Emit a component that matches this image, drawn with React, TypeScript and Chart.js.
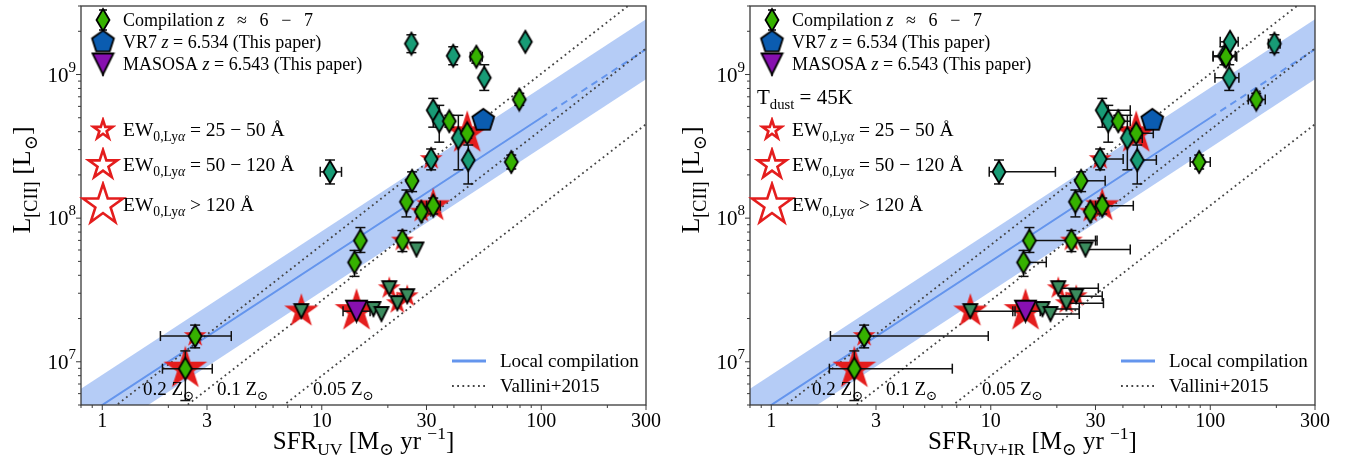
import React, { useEffect, useRef } from 'react';
import { Chart, registerables } from 'chart.js';

Chart.register(...registerables);

const FONT = '"Liberation Serif", "DejaVu Serif", serif';

// ---------------- data ----------------
// Compilation z ~ 6-7 (diamonds)
const compSfrUV = [25.6, 39.7, 50.6, 84.6, 55.0, 79.4, 73.0, 10.9, 32.2, 34.3, 38.1, 41.9, 46.0, 46.5, 31.5, 25.8, 24.3, 28.4, 32.2, 15.0, 23.3, 14.1, 2.65, 2.39];
const compSfrUVIR = [196, 116, 118, 123, 122, 162, 89.0, 10.9, 32.2, 34.3, 38.1, 41.9, 46.0, 46.5, 31.5, 25.8, 24.3, 28.4, 32.2, 15.0, 23.3, 14.1, 2.65, 2.39];
const compLcii = [1.64e9, 1.35e9, 1.33e9, 1.69e9, 9.5e8, 6.7e8, 2.46e8, 2.1e8, 5.64e8, 4.73e8, 4.73e8, 3.61e8, 3.9e8, 2.54e8, 2.58e8, 1.82e8, 1.3e8, 1.11e8, 1.22e8, 6.98e7, 6.98e7, 4.92e7, 1.51e7, 8.95e6];
const compLciiLo = [1.42e9, 1.17e9, 1.2e9, null, 7.75e8, 6.1e8, 2.2e8, 1.73e8, 4.3e8, 3.38e8, 4.3e8, 2.17e8, 3.6e8, 1.73e8, 2.17e8, 1.53e8, 1.02e8, 1.02e8, 1.07e8, 5.77e7, 5.85e7, 3.93e7, 1.25e7, 5.37e6];
const compLciiHi = [1.89e9, 1.56e9, 1.45e9, null, 1.17e9, 7.4e8, 2.75e8, 2.54e8, 6.82e8, 6.1e8, 5.2e8, 5.2e8, 4.2e8, 3.23e8, 3.03e8, 2.1e8, 1.57e8, 1.2e8, 1.38e8, 8.6e7, 8.2e7, 5.96e7, 1.8e7, 1.19e7];
const compUVLo = [null, null, 47.5, null, null, null, null, 9.84, null, null, null, null, null, null, null, null, null, null, 30.0, null, null, null, 1.84, 1.88];
const compUVHi = [null, null, 53.8, null, null, null, null, 12.3, null, null, null, null, null, null, null, null, null, null, 34.7, null, null, null, 3.87, 3.17];
const compUVIRLo = [184, 103, 103, 111, 105, 149, 81, 9.84, 32.2, 34.3, null, 41.9, 46.0, 46.5, 31.5, 25.8, null, null, 30.0, 15.0, 23.3, 14.1, 1.86, 1.84];
const compUVIRHi = [208, 130, 132, 134, 135, 178, 100, 19.7, 43.2, 43.2, null, 49.0, 55.0, 56.8, 40.1, 33.2, null, null, 44.6, 30.0, 30.5, 17.9, 9.74, 6.68];
const compKind = ['teal', 'teal', 'green', 'teal', 'teal', 'green', 'green', 'teal', 'teal', 'teal', 'green', 'teal', 'green', 'teal', 'teal', 'green', 'green', 'green', 'green', 'green', 'green', 'green', 'green', 'green'];
const compEW = [0, 0, 0, 0, 0, 0, 0, 0, 0, 0, 0, 0, 3, 0, 1, 0, 0, 1, 2, 0, 1, 0, 1, 3];

// LAEs of this survey (down triangles)
const laeSfrUV = [8.07, 17.2, 18.7, 20.3, 22.1, 24.5, 27.0];
const laeSfrUVIRHi = [12.9, 25.3, 25.3, 30.9, 32.6, 32.2, 43.2];
const laeLcii = [2.25e7, 2.33e7, 2.15e7, 3.25e7, 2.56e7, 2.86e7, 6.05e7];
const laeEW = [2, 0, 0, 1, 1, 1, 0];

// VR7 and MASOSA
const vr7Sfr = [54.4];
const vr7Lcii = [4.8e8];
const vr7EW = [1];
const masosaSfr = [14.4];
const masosaLcii = [2.25e7];
const masosaUVLo = [12.5];
const masosaUVHi = [16.6];
const masosaUVIRLo = [12.6];
const masosaUVIRHi = [16.8];
const masosaEW = [3];

// Local compilation relation (solid, extrapolated dashed) and scatter band
const localX = [0.8, 100];
const localY = [4.0e6, 5.0e8];
const localExtX = [100, 300];
const localExtY = [5.0e8, 1.5e9];
const bandX = [0.8, 300];
const bandHi = [6.5e6, 2.43e9];
const bandLo = [2.47e6, 9.26e8];

// Vallini+2015 relations
const valliniX = [0.8, 300];
const vallini02 = [3.2e6, 3.76e9];
const vallini01 = [1.33e6, 1.52e9];
const vallini005 = [4.0e5, 4.51e8];

// ticks
const xMajorTicks = [1, 3, 10, 30, 100, 300];
const xTickLabels = ['1', '3', '10', '30', '100', '300'];
const yMajorTicks = [1e7, 1e8, 1e9];
const yTickExp = ['7', '8', '9'];

// ---------------- styles ----------------
const GREEN = '#36b200';
const TEAL = '#189c76';
const TRI = '#3b8c5e';
const BLUE = '#0b5cb0';
const PURPLE = '#8710b0';
const RED = '#e41d1d';
const LOCAL = '#6495ed';
const BAND = 'rgba(100,149,237,0.48)';
const DOT = '#444444';
const EN = '\u2002\u2009';

type Seg = { t: string; it?: boolean; sub?: boolean; sup?: boolean };

function segFont(size: number, s: Seg) {
  const sz = s.sub || s.sup ? size * 0.7 : size;
  return `${s.it ? 'italic ' : ''}${sz}px ${FONT}`;
}
function drawRich(ctx: CanvasRenderingContext2D, segs: Seg[], x: number, yMid: number, size: number, align: 'left' | 'center' = 'left') {
  let w = 0;
  for (const s of segs) { ctx.font = segFont(size, s); w += ctx.measureText(s.t).width; }
  let cx = align === 'left' ? x : x - w / 2;
  const base = yMid + size * 0.32;
  ctx.textBaseline = 'alphabetic';
  ctx.textAlign = 'left';
  ctx.fillStyle = '#000';
  for (const s of segs) {
    ctx.font = segFont(size, s);
    const dy = s.sub ? size * 0.24 : s.sup ? -size * 0.4 : 0;
    ctx.fillText(s.t, cx, base + dy);
    cx += ctx.measureText(s.t).width;
  }
}

function mk(w: number, h: number, draw: (c: CanvasRenderingContext2D) => void) {
  const c = document.createElement('canvas');
  c.width = w; c.height = h;
  const ctx = c.getContext('2d')!;
  draw(ctx);
  return c;
}
function diamond(fill: string) {
  return mk(18, 26, c => {
    c.beginPath(); c.moveTo(9, 2); c.lineTo(15.5, 13); c.lineTo(9, 24); c.lineTo(2.5, 13); c.closePath();
    c.fillStyle = fill; c.fill(); c.lineWidth = 1.8; c.strokeStyle = '#000'; c.stroke();
  });
}
function triDown(fill: string, s: number) {
  const m = 2;
  return mk(s + 2 * m, s + 2 * m, c => {
    c.beginPath(); c.moveTo(m, m); c.lineTo(m + s, m); c.lineTo(m + s / 2, m + s); c.closePath();
    c.fillStyle = fill; c.fill(); c.lineWidth = 1.8; c.strokeStyle = '#000'; c.lineJoin = 'miter'; c.stroke();
  });
}
function pentagon(fill: string, R: number) {
  const S = Math.ceil(2 * R + 4);
  return mk(S, S, c => {
    c.beginPath();
    for (let k = 0; k < 5; k++) {
      const a = -Math.PI / 2 + k * 2 * Math.PI / 5;
      const px = S / 2 + R * Math.cos(a), py = S / 2 + R * Math.sin(a);
      if (k === 0) c.moveTo(px, py); else c.lineTo(px, py);
    }
    c.closePath(); c.fillStyle = fill; c.fill(); c.lineWidth = 1.8; c.strokeStyle = '#000'; c.stroke();
  });
}
function starPath(c: CanvasRenderingContext2D, cx: number, cy: number, R: number) {
  const r = R * 0.381966;
  c.beginPath();
  for (let k = 0; k < 10; k++) {
    const a = -Math.PI / 2 + k * Math.PI / 5;
    const rr = k % 2 === 0 ? R : r;
    const px = cx + rr * Math.cos(a), py = cy + rr * Math.sin(a);
    if (k === 0) c.moveTo(px, py); else c.lineTo(px, py);
  }
  c.closePath();
}
function star(R: number, hollow: boolean) {
  const S = Math.ceil(2 * R + 6);
  return mk(S, S, c => {
    starPath(c, S / 2, S / 2, R);
    if (hollow) { c.lineWidth = 2.6; c.strokeStyle = RED; c.lineJoin = 'miter'; c.stroke(); }
    else { c.fillStyle = RED; c.fill(); }
  });
}

function makeMarkers() {
  return {
    diaGreen: diamond(GREEN),
    diaTeal: diamond(TEAL),
    triTeal: triDown(TRI, 14),
    triPurple: triDown(PURPLE, 21),
    pent: pentagon(BLUE, 11.5),
    stars: [null, star(12, false), star(18, false), star(23, false)] as (HTMLCanvasElement | null)[],
    hollow: [null, star(10, true), star(15, true), star(21, true)] as (HTMLCanvasElement | null)[],
  };
}
type Markers = ReturnType<typeof makeMarkers>;

function buildChart(canvas: HTMLCanvasElement, panel: 'uv' | 'uvir', m: Markers) {
  const isUV = panel === 'uv';
  const compX = isUV ? compSfrUV : compSfrUVIR;
  const compXLo = isUV ? compUVLo : compUVIRLo;
  const compXHi = isUV ? compUVHi : compUVIRHi;
  const yAxisW = isUV ? 81 : 72;
  const padR = isUV ? 32 : 41;
  const pts = (xs: number[], ys: number[]) => xs.map((x, i) => ({ x, y: ys[i] }));

  const starPts: { x: number; y: number }[] = [];
  const starStyles: any[] = [];
  compEW.forEach((e, i) => { if (e) { starPts.push({ x: compX[i], y: compLcii[i] }); starStyles.push(m.stars[e]); } });
  laeEW.forEach((e, i) => { if (e) { starPts.push({ x: laeSfrUV[i], y: laeLcii[i] }); starStyles.push(m.stars[e]); } });
  vr7EW.forEach((e, i) => { if (e) { starPts.push({ x: vr7Sfr[i], y: vr7Lcii[i] }); starStyles.push(m.stars[e]); } });
  masosaEW.forEach((e, i) => { if (e) { starPts.push({ x: masosaSfr[i], y: masosaLcii[i] }); starStyles.push(m.stars[e]); } });

  const lineDs = (label: string, xs: number[], ys: number[], color: string, width: number, dash: number[], order: number) => ({
    type: 'line' as const, label, data: pts(xs, ys), borderColor: color, borderWidth: width, borderDash: dash,
    pointRadius: 0, fill: false, tension: 0, order,
  });

  const datasets: any[] = [
    { type: 'line', label: 'bandHi', data: pts(bandX, bandHi), borderColor: 'transparent', borderWidth: 0, pointRadius: 0, fill: '+1', backgroundColor: BAND, order: 30 },
    { type: 'line', label: 'bandLo', data: pts(bandX, bandLo), borderColor: 'transparent', borderWidth: 0, pointRadius: 0, fill: false, order: 29 },
    lineDs('local', localX, localY, LOCAL, 2, [], 20),
    lineDs('localExt', localExtX, localExtY, LOCAL, 2, [7, 5], 19),
    lineDs('v02', valliniX, vallini02, DOT, 1.8, [1.8, 3.4], 18),
    lineDs('v01', valliniX, vallini01, DOT, 1.8, [1.8, 3.4], 17),
    lineDs('v005', valliniX, vallini005, DOT, 1.8, [1.8, 3.4], 16),
    { type: 'scatter', label: 'stars', data: starPts, pointStyle: starStyles, pointRadius: 5, order: 10 },
    { type: 'scatter', label: 'lae', data: pts(laeSfrUV, laeLcii), pointStyle: m.triTeal, pointRadius: 5, order: 9 },
    { type: 'scatter', label: 'comp', data: pts(compX, compLcii), pointStyle: compKind.map(k => (k === 'teal' ? m.diaTeal : m.diaGreen)), pointRadius: 5, order: 8 },
    { type: 'scatter', label: 'vr7', data: pts(vr7Sfr, vr7Lcii), pointStyle: m.pent, pointRadius: 5, order: 7 },
    { type: 'scatter', label: 'masosa', data: pts(masosaSfr, masosaLcii), pointStyle: m.triPurple, pointRadius: 5, order: 6 },
  ];

  const drawErrorBars = (chart: any) => {
    const { ctx, chartArea: a } = chart;
    const xs = chart.scales.x, ys = chart.scales.y;
    ctx.save();
    ctx.beginPath(); ctx.rect(a.left, a.top, a.right - a.left, a.bottom - a.top); ctx.clip();
    ctx.strokeStyle = '#111'; ctx.lineWidth = 1.5; ctx.setLineDash([]);
    const cap = 5;
    const seg = (x0: number, y0: number, x1: number, y1: number) => { ctx.beginPath(); ctx.moveTo(x0, y0); ctx.lineTo(x1, y1); ctx.stroke(); };
    const vbar = (x: number, y0: number, y1: number) => {
      const px = xs.getPixelForValue(x), p0 = ys.getPixelForValue(y0), p1 = ys.getPixelForValue(y1);
      seg(px, p0, px, p1); seg(px - cap, p0, px + cap, p0); seg(px - cap, p1, px + cap, p1);
    };
    const hbar = (y: number, x0: number, x1: number) => {
      const py = ys.getPixelForValue(y), p0 = xs.getPixelForValue(x0), p1 = xs.getPixelForValue(x1);
      seg(p0, py, p1, py); seg(p0, py - cap, p0, py + cap); seg(p1, py - cap, p1, py + cap);
    };
    compX.forEach((x, i) => {
      const lo = compLciiLo[i], hi = compLciiHi[i];
      if (lo != null && hi != null) vbar(x, lo, hi);
      const xl = compXLo[i], xh = compXHi[i];
      if (xl != null && xh != null) hbar(compLcii[i], xl, xh);
    });
    if (!isUV) laeSfrUV.forEach((x, i) => hbar(laeLcii[i], x, laeSfrUVIRHi[i]));
    masosaSfr.forEach((x, i) => hbar(masosaLcii[i], isUV ? masosaUVLo[i] : masosaUVIRLo[i], isUV ? masosaUVHi[i] : masosaUVIRHi[i]));
    ctx.restore();
  };

  const decor = {
    id: 'decor',
    beforeDatasetDraw(chart: any, args: any) {
      if (chart.data.datasets[args.index].label === 'lae') drawErrorBars(chart);
    },
    afterDraw(chart: any) {
      const { ctx, chartArea: a } = chart;
      const xs = chart.scales.x, ys = chart.scales.y;
      ctx.save();
      // frame
      ctx.strokeStyle = '#3a3a3a'; ctx.lineWidth = 1.3; ctx.setLineDash([]);
      ctx.strokeRect(a.left, a.top, a.right - a.left, a.bottom - a.top);
      // ticks
      const tick = (x0: number, y0: number, x1: number, y1: number) => { ctx.beginPath(); ctx.moveTo(x0, y0); ctx.lineTo(x1, y1); ctx.stroke(); };
      ctx.lineWidth = 1;
      for (let e = -1; e <= 2; e++) for (let k = 1; k <= 9; k++) {
        const v = k * Math.pow(10, e);
        if (v < 0.8 - 1e-9 || v > 300 + 1e-9) continue;
        const major = xMajorTicks.some(t => Math.abs(t - v) < 1e-6);
        const px = xs.getPixelForValue(v);
        tick(px, a.bottom, px, a.bottom + (major ? 5 : 3));
      }
      for (let e = 6; e <= 9; e++) for (let k = 1; k <= 9; k++) {
        const v = k * Math.pow(10, e);
        if (v < 5e6 * (1 - 1e-9) || v > 3e9 * (1 + 1e-9)) continue;
        const major = k === 1;
        const py = ys.getPixelForValue(v);
        tick(a.left - (major ? 5 : 3), py, a.left, py);
      }
      // y tick labels
      ctx.fillStyle = '#000'; ctx.textBaseline = 'alphabetic'; ctx.textAlign = 'left';
      yMajorTicks.forEach((v, i) => {
        const py = ys.getPixelForValue(v);
        ctx.font = `21px ${FONT}`; const w1 = ctx.measureText('10').width;
        ctx.font = `15px ${FONT}`; const w2 = ctx.measureText(yTickExp[i]).width;
        const right = a.left - 5;
        ctx.font = `21px ${FONT}`; ctx.fillText('10', right - w2 - w1, py + 7);
        ctx.font = `15px ${FONT}`; ctx.fillText(yTickExp[i], right - w2, py - 3);
      });
      // axis titles
      const cxm = (a.left + a.right) / 2;
      drawRich(ctx, isUV
        ? [{ t: 'SFR' }, { t: 'UV', sub: true }, { t: ' [M' }, { t: '⊙', sub: true }, { t: ' yr ' }, { t: '−1', sup: true }, { t: ']' }]
        : [{ t: 'SFR' }, { t: 'UV+IR', sub: true }, { t: ' [M' }, { t: '⊙', sub: true }, { t: ' yr ' }, { t: '−1', sup: true }, { t: ']' }],
        cxm, 441, 25, 'center');
      ctx.save();
      ctx.translate(a.left - 59, 180); ctx.rotate(-Math.PI / 2);
      drawRich(ctx, [{ t: 'L' }, { t: '[CII]', sub: true }, { t: ' [L' }, { t: '⊙', sub: true }, { t: ']' }], 0, 0, 26, 'center');
      ctx.restore();
      // top-left legend
      const mx = a.left + 22, tx = a.left + 42;
      ctx.strokeStyle = '#000'; ctx.lineWidth = 1.5;
      tick(mx, 10, mx, 30); tick(mx - 4, 10, mx + 4, 10); tick(mx - 4, 30, mx + 4, 30);
      ctx.drawImage(m.diaGreen, mx - 9, 20 - 13);
      drawRich(ctx, [{ t: 'Compilation ' }, { t: 'z', it: true }, { t: `${EN}≈${EN}6${EN}−${EN}7` }], tx, 20, 18);
      ctx.drawImage(m.pent, mx - m.pent.width / 2, 42 - m.pent.height / 2);
      drawRich(ctx, [{ t: 'VR7 ' }, { t: 'z', it: true }, { t: ' = 6.534 (This paper)' }], tx, 42, 18);
      ctx.strokeStyle = '#000'; tick(mx, 56, mx, 76);
      ctx.drawImage(m.triPurple, mx - m.triPurple.width / 2, 64 - m.triPurple.height / 2);
      drawRich(ctx, [{ t: 'MASOSA ' }, { t: 'z', it: true }, { t: ' = 6.543 (This paper)' }], tx, 64, 18);
      if (!isUV) drawRich(ctx, [{ t: 'T' }, { t: 'dust', sub: true }, { t: ' = 45K' }], a.left + 7, 97, 21);
      // EW legend
      const ewRows: [number, number, Seg[]][] = [
        [1, 130, [{ t: ' = 25 − 50 Å' }]],
        [2, 165, [{ t: ' = 50 − 120 Å' }]],
        [3, 205, [{ t: ' > 120 Å' }]],
      ];
      ewRows.forEach(([k, y, rest]) => {
        const img = m.hollow[k]!;
        ctx.drawImage(img, mx - img.width / 2, y - img.height / 2);
        drawRich(ctx, [{ t: 'EW' }, { t: '0,Ly', sub: true }, { t: 'α', sub: true, it: true }, ...rest], tx, y, 19.5);
      });
      // bottom-right legend
      const lx = a.right - 194;
      ctx.strokeStyle = LOCAL; ctx.lineWidth = 3; ctx.setLineDash([]);
      tick(lx, 361, lx + 34, 361);
      drawRich(ctx, [{ t: 'Local compilation' }], lx + 48, 361, 19);
      ctx.strokeStyle = DOT; ctx.lineWidth = 1.8; ctx.setLineDash([1.8, 3.4]);
      tick(lx, 386, lx + 34, 386);
      ctx.setLineDash([]);
      drawRich(ctx, [{ t: 'Vallini+2015' }], lx + 48, 386, 19);
      // metallicity labels
      drawRich(ctx, [{ t: '0.2 Z' }, { t: '⊙', sub: true }], a.left + 62, 389, 19);
      drawRich(ctx, [{ t: '0.1 Z' }, { t: '⊙', sub: true }], a.left + 136, 389, 19);
      drawRich(ctx, [{ t: '0.05 Z' }, { t: '⊙', sub: true }], a.left + 232, 389, 19);
      ctx.restore();
    },
  };

  return new Chart(canvas, {
    type: 'scatter',
    data: { datasets },
    plugins: [decor],
    options: {
      responsive: false,
      animation: false,
      devicePixelRatio: 1,
      events: [],
      layout: { padding: { left: 0, top: 3, right: padR, bottom: 0 } },
      plugins: {
        legend: { display: false },
        tooltip: { enabled: false },
        filler: { drawTime: 'beforeDatasetsDraw', propagate: false },
      } as any,
      scales: {
        x: {
          type: 'logarithmic', min: 0.8, max: 300,
          grid: { display: false, drawTicks: false }, border: { display: false },
          afterBuildTicks: (s: any) => { s.ticks = xMajorTicks.map(v => ({ value: v })); },
          afterFit: (s: any) => { s.height = 58; },
          ticks: {
            autoSkip: false, maxRotation: 0, minRotation: 0, padding: 5, color: '#000',
            font: { family: FONT, size: 20 },
            callback: (_v: any, i: number) => xTickLabels[i],
          },
        },
        y: {
          type: 'logarithmic', min: 5e6, max: 3e9,
          grid: { display: false, drawTicks: false }, border: { display: false },
          afterBuildTicks: (s: any) => { s.ticks = yMajorTicks.map(v => ({ value: v })); },
          afterFit: (s: any) => { s.width = yAxisW; },
          ticks: { display: false },
        },
      } as any,
    },
  } as any);
}

export default function App() {
  const leftRef = useRef<HTMLCanvasElement>(null);
  const rightRef = useRef<HTMLCanvasElement>(null);
  useEffect(() => {
    const m = makeMarkers();
    const c1 = buildChart(leftRef.current!, 'uv', m);
    const c2 = buildChart(rightRef.current!, 'uvir', m);
    return () => { c1.destroy(); c2.destroy(); };
  }, []);
  return (
    <div style={{ position: 'fixed', left: 0, top: 0, width: 1356, height: 463, background: '#fff' }}>
      <canvas ref={leftRef} width={678} height={463} style={{ position: 'absolute', left: 0, top: 0, width: 678, height: 463 }} />
      <canvas ref={rightRef} width={678} height={463} style={{ position: 'absolute', left: 678, top: 0, width: 678, height: 463 }} />
    </div>
  );
}
